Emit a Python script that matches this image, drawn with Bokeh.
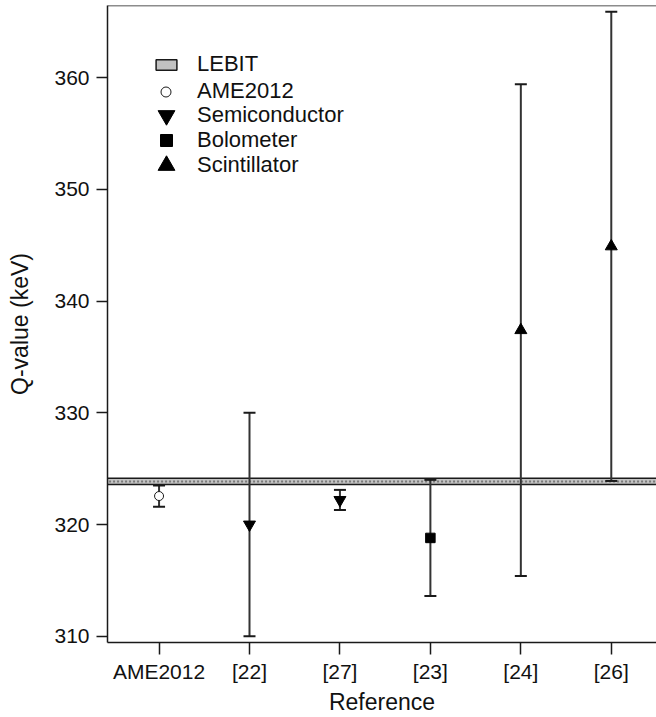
from bokeh.plotting import figure
from bokeh.models import (Range1d, FixedTicker, Whisker, TeeHead, ColumnDataSource,
                          Legend, LegendItem, Span)
from bokeh.embed import file_html
from bokeh.resources import INLINE

# ---- data ----
refs = ["AME2012", "[22]", "[27]", "[23]", "[24]", "[26]"]
qvals = [322.55, 320.0, 322.2, 318.8, 337.4, 344.9]
qerrs = [0.95, 10.0, 0.9, 5.2, 22.0, 21.0]
kinds = ["AME2012", "Semiconductor", "Semiconductor", "Bolometer", "Scintillator", "Scintillator"]
lebit_q = 323.86
lebit_err = 0.28
yticks = [310, 320, 330, 340, 350, 360]

FONT = "Liberation Sans"
INK = "#1a1a1a"
BAR = "#333333"

xs = list(range(len(refs)))
x_start, x_end = -0.57, 5.5
y_start, y_end = 309.44, 366.46

p = figure(width=656, height=717, x_range=Range1d(x_start, x_end), y_range=Range1d(y_start, y_end),
           output_backend="svg", toolbar_location=None,
           min_border_left=107, min_border_right=0, min_border_top=5, min_border_bottom=75)
p.outline_line_color = None
p.grid.visible = False
p.background_fill_color = "white"
p.border_fill_color = "white"

# LEBIT band
band = p.quad(left=x_start - 1, right=x_end + 1, bottom=lebit_q - lebit_err, top=lebit_q + lebit_err,
              fill_color="#c2c2c2", line_color=INK, line_width=1.5)
p.segment(x0=[x_start - 1], x1=[x_end + 1], y0=[lebit_q], y1=[lebit_q],
          line_color="#7a7a7a", line_width=2, line_dash="2 2")

# error bars
src = ColumnDataSource(dict(x=xs, q=qvals,
                            lower=[q - e for q, e in zip(qvals, qerrs)],
                            upper=[q + e for q, e in zip(qvals, qerrs)]))
w = Whisker(source=src, base="x", upper="upper", lower="lower",
            line_color=BAR, line_width=2,
            upper_head=TeeHead(size=12, line_color=INK, line_width=2),
            lower_head=TeeHead(size=12, line_color=INK, line_width=2),
            level="glyph")
p.renderers.append(w)

def sub(kind):
    idx = [i for i, k in enumerate(kinds) if k == kind]
    return ColumnDataSource(dict(x=[xs[i] for i in idx], q=[qvals[i] for i in idx]))

r_ame = p.scatter("x", "q", source=sub("AME2012"), marker="circle", size=9,
                  fill_color="white", line_color=INK, line_width=1)
r_semi = p.scatter("x", "q", source=sub("Semiconductor"), marker="inverted_triangle", size=12,
                   fill_color="black", line_color="black")
r_bolo = p.scatter("x", "q", source=sub("Bolometer"), marker="square", size=9.5,
                   fill_color="black", line_color="black")
r_scin = p.scatter("x", "q", source=sub("Scintillator"), marker="triangle", size=12,
                   fill_color="black", line_color="black")

# top frame line
p.add_layout(Span(location=y_end, dimension="width", line_color=INK, line_width=1.5))

# axes
for ax in (p.xaxis[0], p.yaxis[0]):
    ax.axis_line_color = INK
    ax.axis_line_width = 1.5
    ax.major_tick_line_color = INK
    ax.major_tick_line_width = 1.5
    ax.major_tick_in = 0
    ax.minor_tick_line_color = None
    ax.major_label_text_font = FONT
    ax.major_label_text_font_size = "21px"
    ax.major_label_text_color = "#111111"
    ax.axis_label_text_font = FONT
    ax.axis_label_text_font_size = "23px"
    ax.axis_label_text_font_style = "normal"
    ax.axis_label_text_color = "#111111"

p.xaxis.ticker = FixedTicker(ticks=xs)
p.xaxis.major_label_overrides = {i: r for i, r in enumerate(refs)}
p.xaxis.major_tick_out = 12
p.xaxis.major_label_standoff = 5
p.xaxis.axis_label = "Reference"
p.xaxis.axis_label_standoff = 3

p.yaxis.ticker = FixedTicker(ticks=yticks)
p.yaxis.major_tick_out = 11
p.yaxis.major_label_standoff = 7
p.yaxis.axis_label = "Q-value (keV)"
p.yaxis.axis_label_standoff = 18

# legends (one per row so each marker keeps its size)
FRAME_LEFT = 107.0     # page px
FRAME_BOTTOM = 642.0   # page px
TEXT_X = 197.0
GLYPH_CX = 165.5
TEXT_H = 24.6

def add_row(label, renderer, gw, gh, cy):
    h = max(gh, TEXT_H, 20)
    lg = Legend(items=[LegendItem(label=label, renderers=[renderer])],
                location=(round(GLYPH_CX - gw / 2 - FRAME_LEFT), round(FRAME_BOTTOM - cy - h / 2)),
                glyph_width=gw, glyph_height=gh,
                label_standoff=round(TEXT_X - GLYPH_CX - gw / 2),
                padding=0, margin=0, spacing=0, border_line_color=None,
                background_fill_alpha=0, label_text_font=FONT, label_text_font_size="22px",
                label_text_color="#111111")
    p.add_layout(lg)

add_row("LEBIT", band, 26, 13, 65)
add_row("AME2012", r_ame, 25, 25, 91.5)
add_row("Semiconductor", r_semi, 42, 42, 115.5)
add_row("Bolometer", r_bolo, 30, 30, 140)
add_row("Scintillator", r_scin, 42, 42, 164.5)

open("out.html", "w").write(file_html(p, INLINE))
